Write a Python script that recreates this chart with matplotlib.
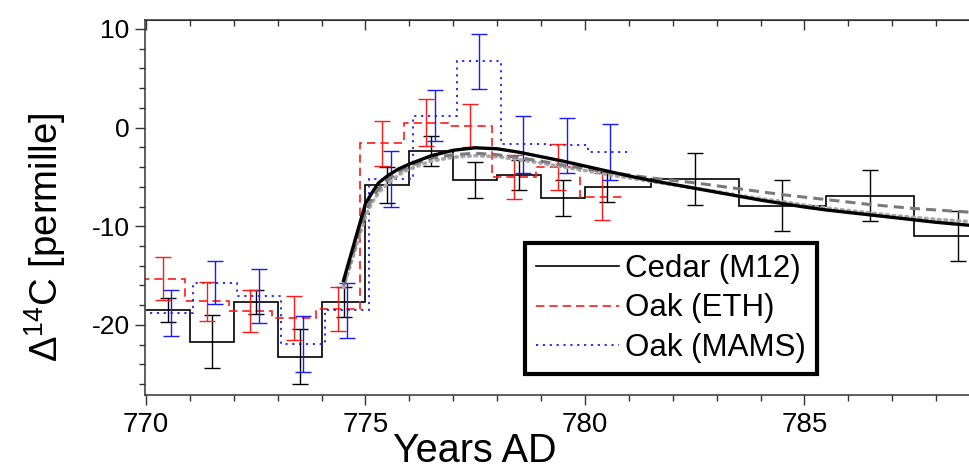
import numpy as np
import matplotlib
matplotlib.use('Agg')
import matplotlib.pyplot as plt
from matplotlib.lines import Line2D
from matplotlib.ticker import MultipleLocator

plt.rcParams['font.family'] = ['Liberation Sans', 'DejaVu Sans']
plt.rcParams['mathtext.fontset'] = 'custom'
plt.rcParams['mathtext.rm'] = 'Liberation Sans'
plt.rcParams['mathtext.it'] = 'Liberation Sans:italic'
plt.rcParams['axes.unicode_minus'] = False  # plain hyphen on tick labels

# Cedar (M12): annual bins, then 2-year bins
cedar_edges = [770, 771, 772, 773, 774, 775, 776, 777, 778, 779, 780, 781.5, 783.5, 785.5, 787.5, 789.5]
cedar_val = [-18.5, -21.7, -17.7, -23.2, -17.7, -5.8, -2.4, -5.3, -4.8, -7.15, -6.0, -5.2, -7.9, -6.9, -11.0]
cedar_x = [770.5, 771.5, 772.5, 773.5, 774.5, 775.5, 776.5, 777.5, 778.5, 779.5, 780.5, 782.5, 784.5, 786.5, 788.5]
cedar_err = [1.2, 2.7, 1.2, 2.8, 1.5, 1.8, 1.5, 1.8, 1.5, 1.8, 1.5, 2.6, 2.6, 2.6, 2.55]

# Oak, ETH and MAMS, annual 770-780
oak_years = [770, 771, 772, 773, 774, 775, 776, 777, 778, 779, 780]
eth_val = [-15.3, -17.6, -18.6, -19.3, -18.4, -1.6, 0.5, 0.2, -5.0, -4.0, -7.0]
eth_err = [2.2, 2.0, 2.1, 2.2, 2.25, 2.3, 2.4, 2.2, 2.2, 2.3, 2.35]
mams_val = [-18.8, -15.7, -17.1, -21.9, -18.5, -5.2, 1.2, 6.7, -1.7, -1.8, -2.5]
mams_err = [2.35, 2.2, 2.75, 2.85, 2.8, 2.8, 2.6, 2.8, 2.9, 2.8, 2.85]

# model curves
mod_x = [774.5, 774.75, 775, 775.15, 775.3, 775.5, 775.75, 776, 776.5, 777, 777.5, 778, 778.5,
         779, 779.5, 780, 780.5, 781, 781.5, 782, 782.5, 783, 783.5, 784, 784.5, 785, 785.5,
         786, 786.5, 787, 787.5, 788, 788.5, 789]
mod_black = [-15.5, -11.6, -7.7, -6.6, -5.6, -4.9, -4.2, -3.7, -2.85, -2.3, -2.05, -2.15, -2.5,
             -2.95, -3.4, -3.9, -4.4, -4.9, -5.35, -5.75, -6.15, -6.55, -6.95, -7.35, -7.7, -8.05, -8.35,
             -8.6, -8.85, -9.1, -9.35, -9.6, -9.8, -10.0]
mod_dash = [-16.0, -12.3, -8.5, -7.2, -6.2, -5.3, -4.5, -3.9, -3.1, -2.75, -2.6, -2.75, -3.05,
            -3.4, -3.8, -4.15, -4.5, -4.8, -5.1, -5.35, -5.6, -5.9, -6.2, -6.5, -6.8, -7.05, -7.3,
            -7.55, -7.8, -8.0, -8.2, -8.35, -8.5, -8.65]
mod_dot = [-16.2, -12.6, -9.0, -7.6, -6.6, -5.7, -4.8, -4.2, -3.4, -3.0, -2.85, -2.95, -3.25,
           -3.6, -4.0, -4.35, -4.75, -5.1, -5.45, -5.8, -6.15, -6.5, -6.85, -7.2, -7.5, -7.85, -8.15,
           -8.4, -8.65, -8.9, -9.1, -9.3, -9.45, -9.6]

ETH_SHIFT = -0.12
MAMS_SHIFT = 0.08
RED = '#ff1a1a'
BLUE = '#1a1aff'

fig = plt.figure(figsize=(9.69, 4.68), dpi=100)
ax = fig.add_axes([145 / 969, 73 / 468, 824 / 969, 375 / 468])

ax.plot(mod_x, mod_dot, color='#a8a8a8', lw=2.6, ls=(0, (0.5, 1.3)), dash_capstyle='round', zorder=3)
ax.plot(mod_x, mod_dash, color='#7a7a7a', lw=2.2, ls=(0, (3.3, 2.0)), zorder=3)
ax.plot(mod_x, mod_black, color='k', lw=2.4, zorder=4)

eth_edges = np.array(oak_years + [781]) + ETH_SHIFT
mams_edges = np.array(oak_years + [781]) + MAMS_SHIFT
oak_mid = np.array(oak_years) + 0.5

ax.stairs(cedar_val, cedar_edges, baseline=None, color='k', lw=1.2, zorder=2)
ax.stairs(eth_val, eth_edges, baseline=None, color=RED, lw=1.2, ls=(0, (5, 3)), zorder=2)
ax.stairs(mams_val, mams_edges, baseline=None, color=BLUE, lw=1.3, ls=(0, (1.2, 2.6)), zorder=2)

ax.errorbar(cedar_x, cedar_val, yerr=cedar_err, fmt='none', ecolor='k', elinewidth=1.0, capsize=5.5, capthick=1.0, zorder=2)
ax.errorbar(oak_mid + ETH_SHIFT, eth_val, yerr=eth_err, fmt='none', ecolor=RED, elinewidth=1.0, capsize=5.5, capthick=1.0, zorder=2)
ax.errorbar(oak_mid + MAMS_SHIFT, mams_val, yerr=mams_err, fmt='none', ecolor=BLUE, elinewidth=1.0, capsize=5.5, capthick=1.0, zorder=2)

ax.set_xlim(769.977, 788.75)
ax.set_ylim(-27.1, 10.9)
ax.set_xticks([770, 775, 780, 785])
ax.xaxis.set_minor_locator(MultipleLocator(1))
ax.set_yticks([-20, -10, 0, 10])
ax.yaxis.set_minor_locator(MultipleLocator(2))

spine_col = '#333333'
for s in ['left', 'bottom', 'top']:
    ax.spines[s].set_color(spine_col)
    ax.spines[s].set_linewidth(1.1)
ax.spines['right'].set_visible(False)

ax.tick_params(axis='both', which='both', direction='out', color=spine_col, width=1.0)
ax.tick_params(axis='both', which='major', length=7)
ax.tick_params(axis='both', which='minor', length=4.5)
ax.tick_params(axis='x', labelsize=20, pad=5)
ax.tick_params(axis='y', labelsize=19, pad=4)

# top axis: ticks pointing inward, no labels
top = ax.secondary_xaxis('top')
top.set_xticks([770, 775, 780, 785])
top.xaxis.set_minor_locator(MultipleLocator(1))
top.tick_params(which='both', direction='in', labeltop=False, color=spine_col, width=1.0)
top.tick_params(which='major', length=7)
top.tick_params(which='minor', length=4.5)
top.spines['top'].set_color(spine_col)

ax.set_xlabel('Years AD', fontsize=28.5)
ax.xaxis.set_label_coords(0.40, -0.098)
ax.set_ylabel('Δ$^{14}$C [permille]', fontsize=27.5)
ax.yaxis.set_label_coords(-0.093, 0.42)

handles = [Line2D([], [], color='k', lw=1.2),
           Line2D([], [], color=RED, lw=1.2, ls=(0, (5, 3))),
           Line2D([], [], color=BLUE, lw=1.3, ls=(0, (1.2, 2.6)))]
labels = ['Cedar (M12)', 'Oak (ETH)', 'Oak (MAMS)']
leg = ax.legend(handles, labels, loc='upper left', bbox_to_anchor=(0.461, 0.405),
                borderaxespad=0, fontsize=22.5, frameon=True, fancybox=False,
                handlelength=2.65, handletextpad=0.2, labelspacing=0.3, borderpad=0.35)
leg.get_frame().set_edgecolor('k')
leg.get_frame().set_linewidth(3)
leg.get_frame().set_alpha(1)
leg.set_zorder(10)

fig.savefig('out.png', dpi=100)
